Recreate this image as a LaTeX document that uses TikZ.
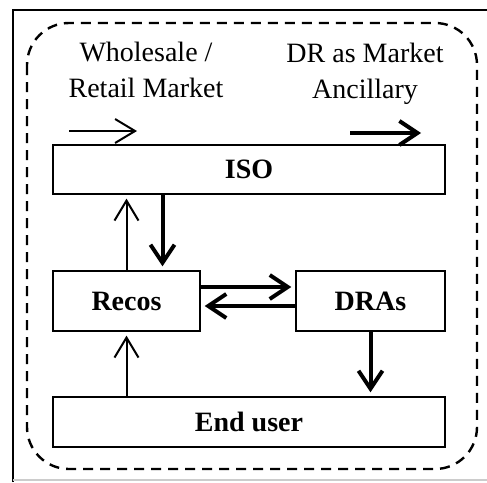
\documentclass[tikz,border=0pt]{standalone}
\usepackage{fontspec}
\setmainfont{Liberation Serif}
\usetikzlibrary{arrows.meta}
\tikzset{
  unit/.style={draw, line width=0.65pt, inner sep=0pt, font=\fontsize{14pt}{18pt}\selectfont\bfseries},
  thinarr/.style={line width=1pt, -{Straight Barb[length=10pt, width=12pt]}, shorten >=2pt},
  thickarr/.style={line width=2pt, -{Straight Barb[length=9pt, width=12pt]}, shorten >=2pt},
}
\begin{document}
\begin{tikzpicture}[x=0.5pt, y=-0.5pt, font=\fontsize{14pt}{18pt}\selectfont]
    \useasboundingbox (0,0) rectangle (487,482);
    % 1. frame
    \draw[line width=1.1pt] (13,482) -- (13,10) -- (487,10);
    \draw[gray!40, line width=0.6pt] (13,480) -- (487,480);
    \draw[line width=1.2pt, dash pattern=on 5pt off 3.5pt, rounded corners=21pt] (27,23) rectangle (477,469);

    % 2. blocks
    \node[unit, minimum width=196pt, minimum height=24.5pt] (iso) at (249,169.5) {ISO};
    \node[unit, minimum width=73.5pt, minimum height=30pt] (recos) at (126.5,301) {Recos};
    \node[unit, minimum width=74.5pt, minimum height=30pt] (dras) at (370.5,301) {DRAs};
    \node[unit, minimum width=196pt, minimum height=25pt] (enduser) at (249,422) {End user};

    % 3. market labels and their arrows
    \node[align=center] (whole) at (146,70) {Wholesale /\\Retail Market};
    \node[align=center] (ancil) at (365,74) {DR as Market\\Ancillary};
    \coordinate (w1) at (69,131);
    \coordinate (w2) at (141,131);
    \coordinate (d1) at (350,133);
    \coordinate (d2) at (425,133);
    \draw[thinarr] (w1) -- (w2);
    \draw[thickarr] (d1) -- (d2);

    % 4. flows between blocks
    \draw[thinarr] (recos.north) -- (recos.north |- iso.south);
    \draw[thickarr] ([xshift=18pt]recos.north |- iso.south) -- ([xshift=18pt]recos.north);
    \draw[thickarr] ([yshift=7pt]recos.east) -- ([yshift=7pt]dras.west);
    \draw[thickarr] ([yshift=-2.5pt]dras.west) -- ([yshift=-2.5pt]recos.east);
    \draw[thickarr] (dras.south) -- (dras.south |- enduser.north);
    \draw[thinarr] (recos.south |- enduser.north) -- (recos.south);
\end{tikzpicture}
\end{document}
